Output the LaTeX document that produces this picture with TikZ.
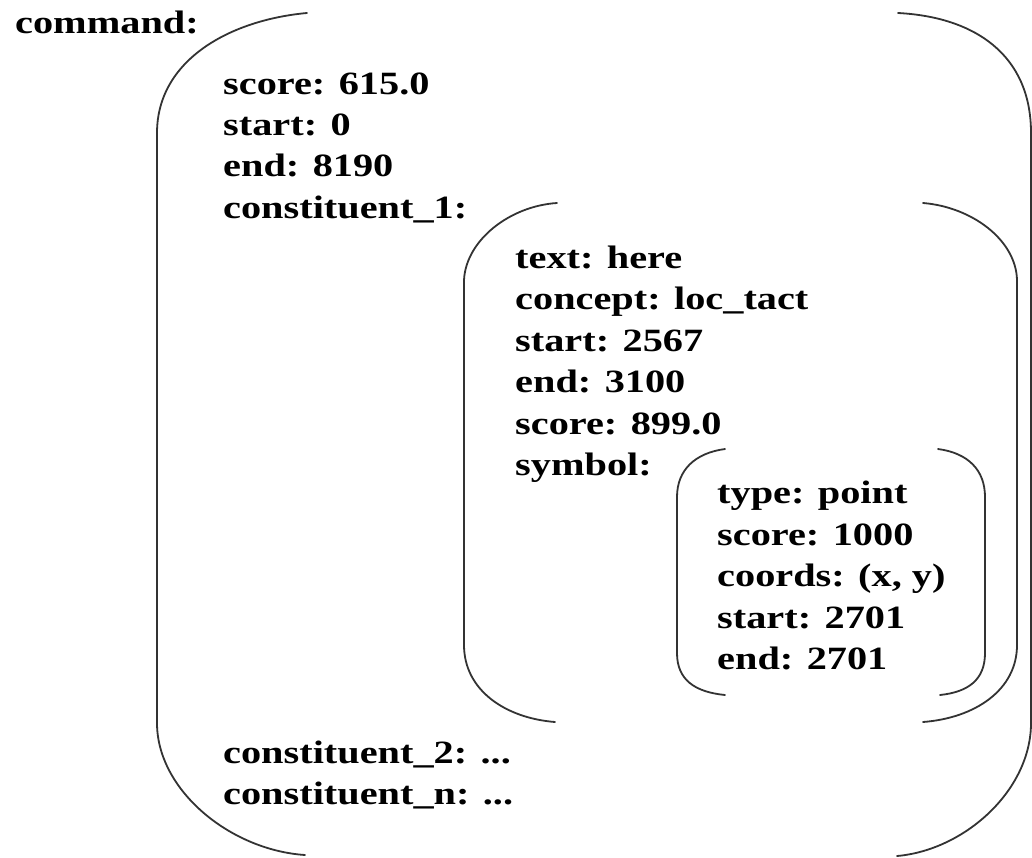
\documentclass[tikz,border=0pt]{standalone}
\usepackage{fontspec}
\newfontfamily\lblfont{Liberation Serif Bold}[FakeStretch=1.24]
\begin{document}
\begin{tikzpicture}[x=1pt,y=-1pt,
  lbl/.style={anchor=base west, inner sep=0pt, font=\lblfont\fontsize{32.5}{41}\selectfont},
  brk/.style={line width=1.8pt, draw=black!80, line cap=round}]
\useasboundingbox (0,0) rectangle (1032,857);
% labels
\node[lbl] (cmd) at (15,33) {command:};
\node[lbl] (o1) at (223,94) {score: 615.0};
\node[lbl] (o2) at (223,135) {start: 0};
\node[lbl] (o3) at (223,176) {end: 8190};
\node[lbl] (o4) at (223,218) {constituent\_1:};
\node[lbl] (o5) at (223,763) {constituent\_2: ...};
\node[lbl] (o6) at (223,804) {constituent\_n: ...};
\node[lbl] (m1) at (515,268) {text: here};
\node[lbl] (m2) at (515,309.5) {concept: loc\_tact};
\node[lbl] (m3) at (515,351) {start: 2567};
\node[lbl] (m4) at (515,392.5) {end: 3100};
\node[lbl] (m5) at (515,434) {score: 899.0};
\node[lbl] (m6) at (515,475.5) {symbol:};
\node[lbl] (i1) at (717,503.5) {type: point};
\node[lbl] (i2) at (717,545) {score: 1000};
\node[lbl] (i3) at (717,586.5) {coords: (x, y)};
\node[lbl] (i4) at (717,628) {start: 2701};
\node[lbl] (i5) at (717,669.5) {end: 2701};
% outer brackets
\draw[brk] (307,13) .. controls (230,20) and (157,60) .. (157,133) -- (157,723)
  .. controls (157,790) and (230,850) .. (305,855);
\draw[brk] (898,13) .. controls (975,17) and (1031,55) .. (1031,133) -- (1031,723)
  .. controls (1031,790) and (965,850) .. (897,856);
% middle brackets
\draw[brk] (557,203) .. controls (510,206) and (466,240) .. (464,280) -- (464,645)
  .. controls (464,690) and (505,718) .. (555,722);
\draw[brk] (923,203) .. controls (972,207) and (1016,240) .. (1017,280) -- (1017,645)
  .. controls (1017,690) and (975,718) .. (923,722);
% inner brackets
\draw[brk] (725,449) .. controls (695,453) and (677,470) .. (677,497) -- (677,653)
  .. controls (677,680) and (695,692) .. (725,695);
\draw[brk] (938,449) .. controls (968,453) and (985,470) .. (985,497) -- (985,653)
  .. controls (985,680) and (968,692) .. (940,695);
\end{tikzpicture}
\end{document}
